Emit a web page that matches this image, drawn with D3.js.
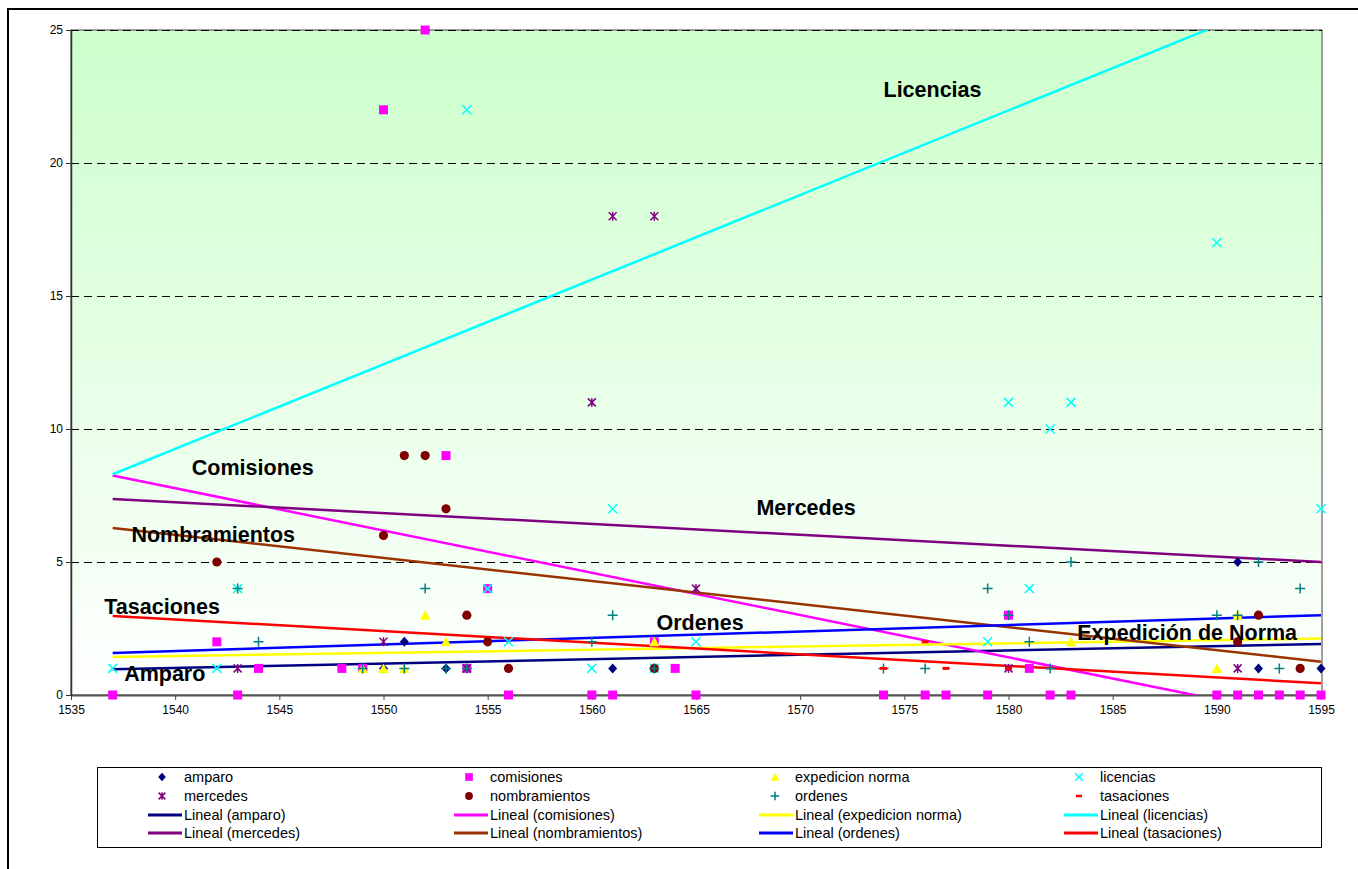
<!DOCTYPE html>
<html>
<head>
<meta charset="utf-8">
<script src="https://cdn.jsdelivr.net/npm/d3@7"></script>
<style>
  html, body { margin: 0; padding: 0; background: #fff; }
  svg { display: block; font-family: "Liberation Sans", Arial, sans-serif; }
</style>
</head>
<body>
<svg id="chart" width="1358" height="869"></svg>
<script>
// Yearly counts per type of document: [year, count]
const amparo = [[1550,1],[1551,2],[1553,1],[1561,1],[1591,5],[1592,1],[1595,1]];
const comisiones = [[1537,0],[1542,2],[1543,0],[1544,1],[1548,1],[1549,1],[1550,22],[1552,25],
  [1553,9],[1554,1],[1555,4],[1556,0],[1560,0],[1561,0],[1563,2],[1564,1],[1565,0],[1574,0],
  [1576,0],[1577,0],[1579,0],[1580,3],[1581,1],[1582,0],[1583,0],[1590,0],[1591,0],[1592,0],
  [1593,0],[1594,0],[1595,0]];
const expedicionNorma = [[1549,1],[1550,1],[1551,1],[1552,3],[1553,2],[1563,2],[1583,2],[1590,1],[1591,3]];
const licencias = [[1537,1],[1542,1],[1543,4],[1554,22],[1555,4],[1556,2],[1560,1],[1561,7],
  [1563,1],[1565,2],[1579,2],[1580,11],[1581,4],[1582,10],[1583,11],[1590,17],[1595,7]];
const mercedes = [[1543,1],[1550,2],[1554,1],[1560,11],[1561,18],[1563,18],[1565,4],[1580,1],[1591,1]];
const nombramientos = [[1542,5],[1550,6],[1551,9],[1552,9],[1553,7],[1554,3],[1555,2],[1556,1],
  [1563,1],[1591,2],[1592,3],[1594,1]];
const ordenes = [[1543,4],[1544,2],[1549,1],[1551,1],[1552,4],[1553,1],[1554,1],[1560,2],[1561,3],
  [1563,1],[1574,1],[1576,1],[1579,4],[1580,3],[1581,2],[1582,1],[1583,5],[1590,3],[1591,3],
  [1592,5],[1593,1],[1594,4]];
const tasaciones = [[1574,1],[1576,2],[1577,1],[1580,1]];

// Linear trend lines: value at the first and last year of the range
const trendYears = [1537, 1595];
const trendAmparo = [0.97, 1.92];
const trendComisiones = [8.25, -0.97];
const trendExpedicion = [1.43, 2.12];
const trendLicencias = [8.3, 26.75];
const trendMercedes = [7.37, 5.0];
const trendNombramientos = [6.28, 1.25];
const trendOrdenes = [1.58, 3.0];
const trendTasaciones = [2.97, 0.44];

// Axis ticks
const xTicks = [1535,1540,1545,1550,1555,1560,1565,1570,1575,1580,1585,1590,1595];
const yTicks = [0,5,10,15,20,25];

// Text labels placed on the plot: [text, year, value at baseline]
const seriesLabels = [
  ["Licencias", 1574.0, 22.48],
  ["Comisiones", 1540.8, 8.27],
  ["Nombramientos", 1537.9, 5.75],
  ["Tasaciones", 1536.6, 3.05],
  ["Amparo", 1537.55, 0.53],
  ["Ordenes", 1563.1, 2.44],
  ["Mercedes", 1567.9, 6.77],
  ["Expedición de Norma", 1583.3, 2.07]
];

const series = [
  { name: "amparo", data: amparo, color: "#000080", shape: "diamond", trend: trendAmparo, trendColor: "#000080" },
  { name: "comisiones", data: comisiones, color: "#FF00FF", shape: "square", trend: trendComisiones, trendColor: "#FF00FF" },
  { name: "expedicion norma", data: expedicionNorma, color: "#FFFF00", shape: "triangle", trend: trendExpedicion, trendColor: "#FFFF00" },
  { name: "licencias", data: licencias, color: "#00FFFF", shape: "x", trend: trendLicencias, trendColor: "#00FFFF" },
  { name: "mercedes", data: mercedes, color: "#800080", shape: "asterisk", trend: trendMercedes, trendColor: "#800080" },
  { name: "nombramientos", data: nombramientos, color: "#800000", shape: "circle", trend: trendNombramientos, trendColor: "#993300" },
  { name: "ordenes", data: ordenes, color: "#008080", shape: "plus", trend: trendOrdenes, trendColor: "#0000FF" },
  { name: "tasaciones", data: tasaciones, color: "#FF0000", shape: "dash", trend: trendTasaciones, trendColor: "#FF0000" }
];

const svg = d3.select("#chart");
const plot = { left: 71, right: 1321, top: 30, bottom: 695 };

const x = d3.scaleLinear().domain([1535, 1595]).range([plot.left, plot.right]);
const y = d3.scaleLinear().domain([0, 25]).range([plot.bottom, plot.top]);

// Outer chart border
svg.append("rect")
  .attr("x", 8).attr("y", 9).attr("width", 1400).attr("height", 900)
  .attr("fill", "none").attr("stroke", "#000").attr("stroke-width", 2);

// Plot background gradient
const defs = svg.append("defs");
const grad = defs.append("linearGradient").attr("id", "bg")
  .attr("x1", 0).attr("y1", 0).attr("x2", 0).attr("y2", 1);
grad.append("stop").attr("offset", "0%").attr("stop-color", "#CCFFCC");
grad.append("stop").attr("offset", "100%").attr("stop-color", "#FFFFFF");
defs.append("clipPath").attr("id", "clip").append("rect")
  .attr("x", plot.left).attr("y", plot.top)
  .attr("width", plot.right - plot.left + 1).attr("height", plot.bottom - plot.top);

svg.append("rect")
  .attr("x", plot.left).attr("y", plot.top)
  .attr("width", plot.right + 1 - plot.left).attr("height", plot.bottom - plot.top)
  .attr("fill", "url(#bg)").attr("stroke", "#808080").attr("stroke-width", 1.5);

// Dashed gridlines
svg.append("g").selectAll("line").data(yTicks.filter(d => d > 0)).join("line")
  .attr("x1", plot.left).attr("x2", plot.right + 1)
  .attr("y1", d => Math.round(y(d)) + 0.5).attr("y2", d => Math.round(y(d)) + 0.5)
  .attr("stroke", "#000").attr("stroke-width", 1).attr("stroke-dasharray", "8,5");

// Axes
const xAxis = svg.append("g").attr("transform", `translate(0,${plot.bottom})`)
  .call(d3.axisBottom(x).tickValues(xTicks).tickFormat(d3.format("d")).tickSize(5).tickSizeOuter(0));
xAxis.select(".domain").attr("stroke", "#555").attr("stroke-width", 2);
xAxis.selectAll(".tick line").attr("stroke", "#444");
xAxis.selectAll("text").attr("font-size", 12).attr("fill", "#000").attr("dy", "0.9em")
  .attr("font-family", "'Liberation Sans', Arial, sans-serif");

const yAxis = svg.append("g").attr("transform", `translate(${plot.left},0)`)
  .call(d3.axisLeft(y).tickValues(yTicks).tickSize(5).tickSizeOuter(0));
yAxis.select(".domain").attr("stroke", "#333").attr("stroke-width", 1.5);
yAxis.selectAll(".tick line").attr("stroke", "#333");
yAxis.selectAll("text").attr("font-size", 12).attr("fill", "#000").attr("x", -8)
  .attr("font-family", "'Liberation Sans', Arial, sans-serif");

// Marker shapes
function markerPath(shape, s) {
  const p = d3.path();
  switch (shape) {
    case "diamond":
      p.moveTo(0, -5 * s); p.lineTo(4.5 * s, 0); p.lineTo(0, 5 * s); p.lineTo(-4.5 * s, 0); p.closePath(); break;
    case "square":
      p.rect(-4.5 * s, -4.5 * s, 9 * s, 9 * s); break;
    case "triangle":
      p.moveTo(0, -5 * s); p.lineTo(5.2 * s, 4.5 * s); p.lineTo(-5.2 * s, 4.5 * s); p.closePath(); break;
    case "circle":
      p.arc(0, 0, 4.6 * s, 0, 2 * Math.PI); break;
    case "x":
      p.moveTo(-4.5 * s, -4.5 * s); p.lineTo(4.5 * s, 4.5 * s);
      p.moveTo(4.5 * s, -4.5 * s); p.lineTo(-4.5 * s, 4.5 * s); break;
    case "asterisk":
      p.moveTo(-4 * s, -4 * s); p.lineTo(4 * s, 4 * s);
      p.moveTo(4 * s, -4 * s); p.lineTo(-4 * s, 4 * s);
      p.moveTo(0, -4.5 * s); p.lineTo(0, 4.5 * s); break;
    case "plus":
      p.moveTo(-5 * s, 0); p.lineTo(5 * s, 0);
      p.moveTo(0, -5 * s); p.lineTo(0, 5 * s); break;
    case "dash":
      p.rect(-3.5 * s, -1.5 * s, 7 * s, 3 * s); break;
  }
  return p.toString();
}
const stroked = new Set(["x", "asterisk", "plus"]);
function styleMarker(sel, d) {
  if (stroked.has(d.shape)) {
    sel.attr("fill", "none").attr("stroke", d.color).attr("stroke-width", 1.5);
  } else {
    sel.attr("fill", d.color).attr("stroke", "none");
  }
}

// Trend lines
const line = d3.line().x(d => x(d[0])).y(d => y(d[1]));
svg.append("g").attr("clip-path", "url(#clip)")
  .selectAll("path").data(series).join("path")
  .attr("d", s => line(trendYears.map((yr, i) => [yr, s.trend[i]])))
  .attr("fill", "none").attr("stroke", s => s.trendColor).attr("stroke-width", 2.5);

// Points
series.forEach(s => {
  svg.append("g").selectAll("path").data(s.data).join("path")
    .attr("transform", d => `translate(${x(d[0])},${y(d[1])})`)
    .attr("d", markerPath(s.shape, 1))
    .each(function () { styleMarker(d3.select(this), s); });
});

// Series labels on the plot
svg.append("g").selectAll("text").data(seriesLabels).join("text")
  .attr("x", d => x(d[1])).attr("y", d => y(d[2]))
  .attr("font-size", 21.5).attr("font-weight", "bold").attr("fill", "#000")
  .text(d => d[0]);

// Legend
const legend = svg.append("g");
legend.append("rect")
  .attr("x", 97.5).attr("y", 767.5).attr("width", 1224).attr("height", 80)
  .attr("fill", "#fff").attr("stroke", "#000").attr("stroke-width", 1);
const colX = [162, 469, 775, 1079];
const textX = [184, 490, 795, 1100];
const rowY = [777, 796, 815, 833];
series.forEach((s, i) => {
  const col = i % 4, row = Math.floor(i / 4);
  const mk = legend.append("path")
    .attr("transform", `translate(${colX[col]},${rowY[row]})`)
    .attr("d", markerPath(s.shape, 0.85));
  styleMarker(mk, s);
  legend.append("text").attr("x", textX[col]).attr("y", rowY[row]).attr("dy", "0.35em")
    .attr("font-size", 14.5).attr("fill", "#000").text(s.name);

  const r2 = row + 2;
  legend.append("line")
    .attr("x1", textX[col] - 36).attr("x2", textX[col] - 2)
    .attr("y1", rowY[r2]).attr("y2", rowY[r2])
    .attr("stroke", s.trendColor).attr("stroke-width", 3);
  legend.append("text").attr("x", textX[col]).attr("y", rowY[r2]).attr("dy", "0.35em")
    .attr("font-size", 14.5).attr("fill", "#000").text(`Lineal (${s.name})`);
});
</script>
</body>
</html>
